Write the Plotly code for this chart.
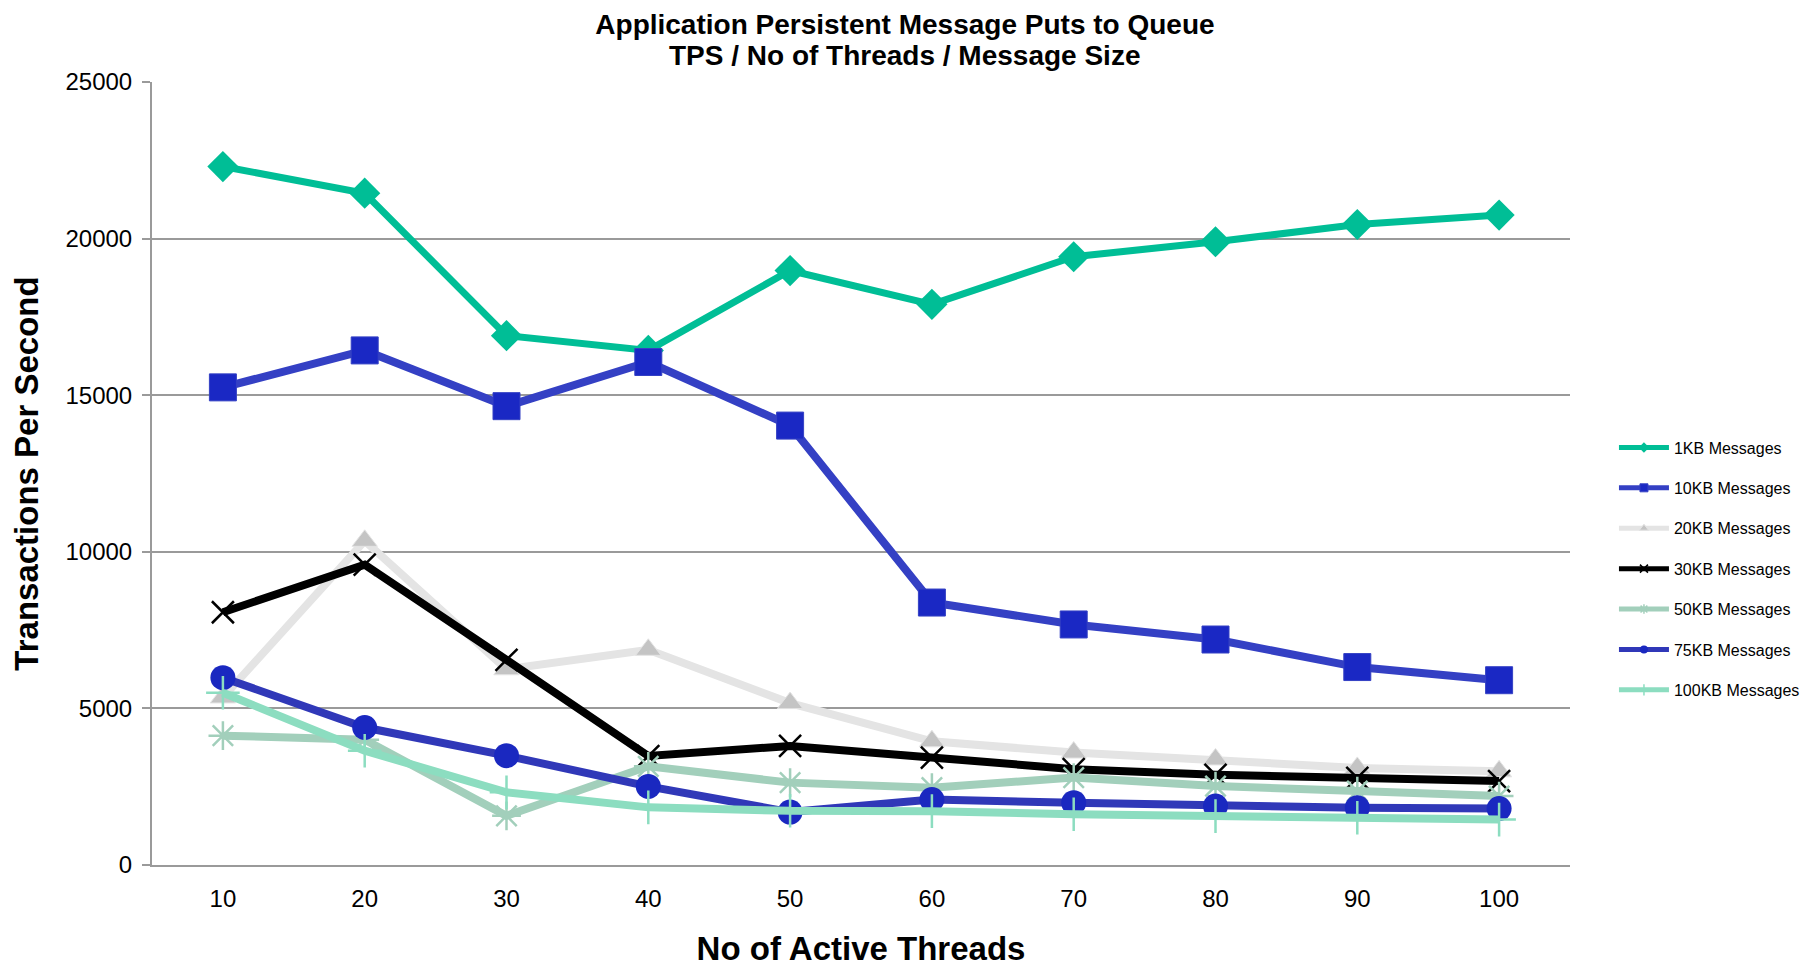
import plotly.graph_objects as go

threads = [10, 20, 30, 40, 50, 60, 70, 80, 90, 100]
series_names = ["1KB Messages", "10KB Messages", "20KB Messages", "30KB Messages",
                "50KB Messages", "75KB Messages", "100KB Messages"]
tps_1kb = [22300, 21450, 16900, 16430, 18980, 17900, 19420, 19900, 20450, 20750]
tps_10kb = [15250, 16430, 14650, 16060, 14030, 8380, 7680, 7200, 6320, 5900]
tps_20kb = [5350, 10350, 6250, 6870, 5170, 3950, 3590, 3370, 3100, 2990]
tps_30kb = [8070, 9590, 6550, 3480, 3800, 3430, 3060, 2880, 2780, 2680]
tps_50kb = [4130, 4000, 1570, 3150, 2630, 2470, 2790, 2520, 2360, 2200]
tps_75kb = [5980, 4390, 3490, 2510, 1690, 2090, 1990, 1880, 1830, 1800]
tps_100kb = [5500, 3650, 2320, 1840, 1730, 1720, 1620, 1560, 1510, 1450]
y_ticks = [0, 5000, 10000, 15000, 20000, 25000]

values = [tps_1kb, tps_10kb, tps_20kb, tps_30kb, tps_50kb, tps_75kb, tps_100kb]
styles = [
    dict(lc="#00BE96", mc="#00BE96", sym="diamond", size=24, mlw=0, mlc="#00BE96", lw=7),
    dict(lc="#3440C4", mc="#1A28C4", sym="square", size=27, mlw=1, mlc="#3440C4", lw=8),
    dict(lc="#E4E4E4", mc="#C4C4C4", sym="triangle-up", size=22, mlw=1, mlc="#E4E4E4", lw=8),
    dict(lc="#000000", mc="#000000", sym="x-thin", size=22, mlw=2.5, mlc="#000000", lw=8),
    dict(lc="#A2CFBB", mc="#A2CFBB", sym="asterisk", size=24, mlw=2.5, mlc="#A2CFBB", lw=8),
    dict(lc="#3038B8", mc="#1A28C0", sym="circle", size=25, mlw=0, mlc="#1A28C0", lw=8),
    dict(lc="#8CDDC0", mc="#8CDDC0", sym="cross-thin", size=24, mlw=2.5, mlc="#8CDDC0", lw=8),
]

fig = go.Figure()
for name, vals, st in zip(series_names, values, styles):
    fig.add_trace(go.Scatter(
        x=threads, y=vals, mode="lines+markers", name=name, showlegend=False,
        line=dict(color=st["lc"], width=st["lw"]),
        marker=dict(symbol=st["sym"], size=st["size"], color=st["mc"],
                    line=dict(width=st["mlw"], color=st["mlc"])),
    ))
# legend-only traces (small markers as in the reference legend)
for i, (name, st) in enumerate(zip(series_names, styles)):
    fig.add_trace(go.Scatter(
        x=[None], y=[None], mode="lines+markers", name=name, showlegend=True,
        legendgroup=f"g{i}",
        line=dict(color=st["lc"], width=5),
        marker=dict(symbol=st["sym"], size=8, color=st["mc"],
                    line=dict(width=min(st["mlw"], 1.5), color=st["mlc"])),
    ))

title_font = "Liberation Sans Narrow, Arial Narrow, Liberation Sans, Arial"
body_font = "Liberation Sans, Arial, Helvetica"

fig.update_layout(
    width=1818, height=965,
    paper_bgcolor="white", plot_bgcolor="white",
    margin=dict(l=139, r=256, t=74, b=103),
    title=dict(
        text="<b>Application Persistent Message Puts to Queue</b>",
        x=0.531, xanchor="center", xref="paper",
        y=0.983, yanchor="middle", yref="container",
        font=dict(family=title_font, size=28, color="#000000"),
    ),
    annotations=[dict(
        text="<b>TPS / No of Threads / Message Size</b>",
        x=0.531, xanchor="center", xref="paper",
        y=1.034, yanchor="middle", yref="paper", showarrow=False,
        font=dict(family=title_font, size=28, color="#000000"),
    )],
    font=dict(family=body_font, size=24, color="#000000"),
    legend=dict(
        x=1.031, xanchor="left", y=0.378, yanchor="middle",
        font=dict(family=body_font, size=16, color="#000000"),
        tracegroupgap=16.6, itemwidth=50, bgcolor="rgba(0,0,0,0)",
    ),
    xaxis=dict(
        range=[5, 105], tickvals=threads, ticktext=[str(t) for t in threads],
        showgrid=False, zeroline=False, showline=True, linecolor="#9A9A9A", linewidth=2,
        ticks="", ticklabelstandoff=11, tickfont=dict(family=body_font, size=24),
        title=dict(text="<b>No of Active Threads</b>", font=dict(family=title_font, size=33), standoff=26),
    ),
    yaxis=dict(
        range=[0, 25000], tickvals=y_ticks, ticktext=[str(v) for v in y_ticks],
        showgrid=True, gridcolor="#9A9A9A", gridwidth=2, zeroline=False,
        showline=True, linecolor="#9A9A9A", linewidth=2,
        ticks="outside", ticklen=8, tickcolor="#9A9A9A", tickwidth=2,
        ticklabelstandoff=5, tickfont=dict(family=body_font, size=24),
        title=dict(text="<b>Transactions Per Second</b>", font=dict(family=title_font, size=33), standoff=22),
    ),
)

fig.write_html("out.html")
